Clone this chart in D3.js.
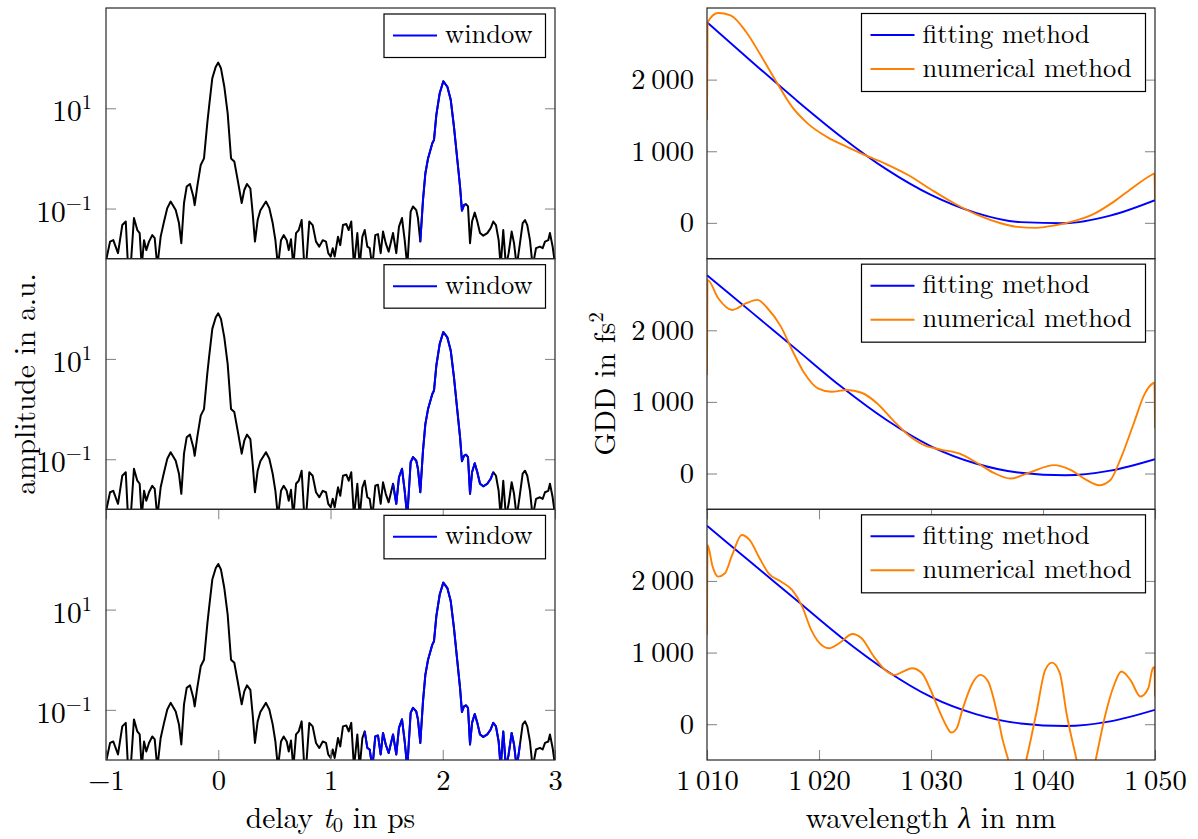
<!DOCTYPE html>
<html><head><meta charset="utf-8">
<script src="https://cdn.jsdelivr.net/npm/d3@7"></script>
<style>body{margin:0;background:#fff} svg text{font-family:"Latin Modern Roman","Liberation Serif",serif;}</style>
</head><body><svg id="c" width="1198" height="839" xmlns="http://www.w3.org/2000/svg"></svg>
<script>
// ---------- DATA ----------
// time trace (delay in ps, amplitude in a.u.)
const delay = [-1.000,-0.964,-0.935,-0.893,-0.855,-0.824,-0.804,-0.780,-0.751,-0.721,-0.700,-0.682,-0.661,-0.641,-0.617,-0.588,-0.566,-0.543,-0.513,-0.483,-0.454,-0.424,-0.379,-0.350,-0.329,-0.305,-0.281,-0.252,-0.222,-0.210,-0.187,-0.156,-0.127,-0.097,-0.082,-0.053,-0.022,0.000,0.024,0.054,0.084,0.114,0.143,0.173,0.209,0.232,0.256,0.286,0.307,0.327,0.351,0.375,0.425,0.455,0.485,0.509,0.532,0.559,0.583,0.610,0.628,0.648,0.669,0.693,0.717,0.743,0.767,0.782,0.811,0.841,0.871,0.900,0.931,0.960,0.980,1.002,1.020,1.037,1.067,1.087,1.111,1.141,1.162,1.185,1.209,1.239,1.260,1.284,1.305,1.328,1.349,1.373,1.399,1.423,1.447,1.468,1.492,1.518,1.536,1.557,1.586,1.610,1.637,1.661,1.684,1.714,1.735,1.764,1.779,1.800,1.824,1.845,1.869,1.907,1.922,1.943,1.973,2.005,2.041,2.071,2.100,2.130,2.154,2.171,2.189,2.207,2.225,2.243,2.261,2.285,2.308,2.332,2.361,2.397,2.427,2.450,2.474,2.498,2.516,2.539,2.563,2.587,2.614,2.635,2.659,2.688,2.712,2.733,2.753,2.777,2.801,2.831,2.866,2.890,2.911,2.940,2.955,2.979,2.991,3.000];
const amplitude = [0.009,0.0219,0.0234,0.0129,0.0468,0.055,0.007,0.007,0.0646,0.0372,0.0324,0.007,0.0234,0.0148,0.0219,0.0295,0.0257,0.007,0.0275,0.055,0.102,0.138,0.093,0.0513,0.0204,0.129,0.275,0.309,0.174,0.117,0.275,0.74,1.0,5.25,10.7,39.8,67.6,81.3,63,26.9,7.9,1.0,0.87,0.372,0.129,0.234,0.309,0.251,0.079,0.0219,0.0589,0.091,0.138,0.102,0.0513,0.0234,0.007,0.0234,0.0295,0.0234,0.0148,0.0245,0.007,0.0324,0.0372,0.0589,0.007,0.007,0.055,0.0468,0.0219,0.0174,0.0234,0.0219,0.0129,0.011,0.0162,0.011,0.0275,0.0186,0.0468,0.049,0.0372,0.055,0.007,0.0324,0.007,0.0275,0.0372,0.0174,0.0162,0.007,0.0295,0.0309,0.0129,0.0347,0.0204,0.0138,0.0204,0.0324,0.0129,0.0437,0.0646,0.0234,0.007,0.087,0.11,0.093,0.0646,0.0219,0.148,0.5,1.0,2.0,2.34,7.4,20,34.5,26.9,14.8,4.27,0.93,0.275,0.091,0.117,0.123,0.11,0.0204,0.055,0.083,0.055,0.0324,0.0288,0.0324,0.0407,0.055,0.0468,0.0234,0.007,0.0372,0.007,0.0129,0.0347,0.0204,0.007,0.0204,0.0513,0.0589,0.0468,0.0234,0.007,0.0162,0.0174,0.0162,0.0219,0.0234,0.0324,0.0174,0.011,0.008];
// window limits (ps) for the three panels
const windowStart = [1.79, 1.55, 1.30];
const windowEnd   = [2.215, 2.455, 2.70];

// GDD (fs^2) vs wavelength (nm)
const fitWavelength = [1010,1014,1018,1022,1026,1030,1034,1038,1042,1046,1050];
const fitGdd1  = [2800,2250,1710,1200,750,390,140,10,-5,100,316];
const fitGdd23 = [2770,2250,1730,1210,750,380,140,10,-25,40,200];

const numWavelength1 = [1010,1010.05,1011.0,1012.1,1013.5,1014.8,1016.2,1017.6,1019.0,1020.7,1022.5,1023.8,1025.9,1028.0,1030.1,1032.1,1034.2,1036.3,1037.7,1039.4,1041.1,1042.5,1044.6,1046.3,1048.1,1049.8,1049.95,1050];
const numGdd1 = [1433,2800,2930,2898,2665,2340,1967,1619,1386,1200,1060,967,828,665,456,270,107,-9,-56,-70,-33,14,130,293,502,679,690,330];

const numWavelength2 = [1010,1010.05,1011.0,1012.25,1013.5,1014.5,1015.4,1016.6,1017.6,1018.7,1019.9,1021.1,1022.5,1023.8,1025.2,1026.6,1028.0,1029.4,1030.8,1032.5,1034.2,1035.6,1037.1,1038.7,1041.0,1042.5,1043.9,1045.0,1046.0,1047.0,1048.1,1049.1,1049.8,1049.95,1050];
const numGdd2 = [1375,2704,2448,2284,2378,2424,2308,2051,1725,1399,1189,1142,1166,1128,979,746,536,396,336,280,140,9,-70,9,117,47,-93,-163,-93,233,699,1119,1259,1270,629];

const numWavelength3 = [1010,1010.05,1010.5,1011.0,1011.6,1012.25,1013.1,1013.8,1014.7,1015.5,1016.6,1017.6,1018.5,1019.3,1020.4,1020.9,1021.8,1023.0,1023.8,1024.9,1025.9,1026.8,1027.5,1028.3,1029.2,1029.9,1030.7,1031.4,1031.8,1032.3,1032.8,1033.7,1034.4,1035.1,1035.9,1036.4,1036.9,1037.3,1037.7,1038.1,1038.5,1039.4,1040.2,1040.8,1041.5,1042.1,1043.0,1043.4,1043.85,1044.3,1044.7,1045.6,1046.3,1047.0,1047.8,1048.7,1049.4,1049.8,1049.95,1050];
const numGdd3 = [1247,2502,2200,2060,2107,2363,2642,2572,2316,2107,1991,1874,1642,1316,1084,1060,1130,1260,1200,944,758,688,735,781,712,502,200,-33,-116,-56,200,572,688,595,153,-219,-498,-740,-850,-740,-498,153,758,860,712,153,-498,-780,-930,-780,-498,153,526,735,619,386,502,781,800,386];

// ticks and labels
const leftXTicks = [-1,0,1,2,3];
const leftXTickLabels = ["\u22121","0","1","2","3"];
const leftYTicks = [0.1, 10];
const leftYTickExp = ["\u22121","1"];
const rightXTicks = [1010,1020,1030,1040,1050];
const rightXTickLabels = ["1\u2009010","1\u2009020","1\u2009030","1\u2009040","1\u2009050"];
const rightYTicks = [0,1000,2000];
const rightYTickLabels = ["0","1\u2009000","2\u2009000"];
const leftLegend = ["window"];
const rightLegend = ["fitting method","numerical method"];

// ---------- LAYOUT ----------
const svg = d3.select("#c");
const FONT = '"Latin Modern Roman","Liberation Serif",serif';
const FS_LEG = 26.5, FS_TICK = 28.5, FS_LOG = 29.5, FS_SUP = 20.6, FS_TITLE = 29.5;
const L0 = 106, L1 = 555, R0 = 707, R1 = 1155;
const tops = [8, 258.67, 509.33], PH = 250.67;
const TICK = "#8c8c8c", FRAME = "#262626";
const BLUE = "#0000ff", ORANGE = "#ff8000";

const xL = d3.scaleLinear().domain([-1,3]).range([L0,L1]);
const xR = d3.scaleLinear().domain([1010,1050]).range([R0,R1]);

const trace = delay.map((t,i)=>({x:t, y:amplitude[i]}));
const fit = [fitGdd1, fitGdd23, fitGdd23].map(g => fitWavelength.map((w,i)=>({x:w,y:g[i]})));
const num = [[numWavelength1,numGdd1],[numWavelength2,numGdd2],[numWavelength3,numGdd3]]
  .map(([w,g]) => w.map((v,i)=>({x:v,y:g[i]})));

function txt(sel, fs){ return sel.style("font-family",FONT).style("font-size",fs+"px"); }

function styleAxis(g, fs){
  g.select(".domain").remove();
  g.selectAll(".tick line").attr("stroke",TICK).attr("stroke-width",1.1);
  g.attr("font-family",null).attr("font-size",null);
  txt(g.selectAll(".tick text"), fs || FS_TICK).attr("fill","#000");
}

function clip(id,x0,x1,top){
  svg.append("clipPath").attr("id",id).append("rect")
    .attr("x",x0).attr("y",top).attr("width",x1-x0).attr("height",PH);
}

function legend(x, y, w, h, entries, colors){
  const g = svg.append("g");
  g.append("rect").attr("x",x).attr("y",y).attr("width",w).attr("height",h)
    .attr("fill","#fff").attr("stroke","#000").attr("stroke-width",1.2);
  entries.forEach((e,k)=>{
    const cy = y + 21.5 + k*34;
    g.append("line").attr("x1",x+9).attr("x2",x+53).attr("y1",cy).attr("y2",cy)
      .attr("stroke",colors[k]).attr("stroke-width",2);
    txt(g.append("text").attr("x",x+61).attr("y",cy+7.5), FS_LEG).text(e);
  });
}

tops.forEach((top,i)=>{
  const bottom = top + PH;
  // ----- left panel -----
  const yL = d3.scaleLog().domain([0.01,1000]).range([bottom, top]);
  clip("cl"+i, L0, L1, top);
  const lineL = d3.line().x(d=>xL(d.x)).y(d=>yL(d.y));
  const gl = svg.append("g").attr("clip-path",`url(#cl${i})`);
  gl.append("path").datum(trace).attr("d",lineL).attr("fill","none")
    .attr("stroke","#000").attr("stroke-width",2).attr("stroke-linejoin","round");
  gl.append("path").datum(trace.filter(d=>d.x>=windowStart[i] && d.x<=windowEnd[i]))
    .attr("d",lineL).attr("fill","none").attr("stroke",BLUE).attr("stroke-width",2)
    .attr("stroke-linejoin","round");

  const ayl = svg.append("g").attr("transform",`translate(${L0},0)`)
    .call(d3.axisLeft(yL).tickValues(leftYTicks).tickSize(-10).tickPadding(14).tickFormat(()=>""));
  styleAxis(ayl, FS_LOG);
  ayl.selectAll(".tick text").each(function(d){
    const t = d3.select(this).attr("dy",null).attr("y",12.5);
    t.append("tspan").text("10");
    t.append("tspan").attr("dy",-12).style("font-size",FS_SUP+"px").text(leftYTickExp[leftYTicks.indexOf(d)]);
  });
  const ayr = svg.append("g").attr("transform",`translate(${L1},0)`)
    .call(d3.axisRight(yL).tickValues(leftYTicks).tickSize(-10).tickFormat(()=>""));
  styleAxis(ayr);

  // ----- right panel -----
  const yR = d3.scaleLinear().domain([-500,3000]).range([bottom, top]);
  clip("cr"+i, R0, R1, top);
  const lineR = d3.line().curve(d3.curveMonotoneX).x(d=>xR(d.x)).y(d=>yR(d.y));
  const gr = svg.append("g").attr("clip-path",`url(#cr${i})`);
  gr.append("path").datum(fit[i]).attr("d",lineR).attr("fill","none")
    .attr("stroke",BLUE).attr("stroke-width",1.9);
  gr.append("path").datum(num[i]).attr("d",lineR).attr("fill","none")
    .attr("stroke",ORANGE).attr("stroke-width",1.9).attr("stroke-linejoin","round");

  const ayrl = svg.append("g").attr("transform",`translate(${R0},0)`)
    .call(d3.axisLeft(yR).tickValues(rightYTicks).tickSize(-10).tickPadding(13)
      .tickFormat(d=>rightYTickLabels[rightYTicks.indexOf(d)]));
  styleAxis(ayrl);
  ayrl.selectAll(".tick text").attr("dy",null).attr("y",9);
  const ayrr = svg.append("g").attr("transform",`translate(${R1},0)`)
    .call(d3.axisRight(yR).tickValues(rightYTicks).tickSize(-10).tickFormat(()=>""));
  styleAxis(ayrr);

  // x ticks only on bottom row
  if (i === 2) {
    const axb = svg.append("g").attr("transform",`translate(0,${bottom})`)
      .call(d3.axisBottom(xL).tickValues(leftXTicks).tickSize(-10)
        .tickFormat(d=>leftXTickLabels[leftXTicks.indexOf(d)]));
    styleAxis(axb);
    axb.selectAll(".tick text").attr("dy",null).attr("y",30);
    const axt = svg.append("g").attr("transform",`translate(0,${top})`)
      .call(d3.axisTop(xL).tickValues(leftXTicks).tickSize(-10).tickFormat(()=>""));
    styleAxis(axt);
    const arb = svg.append("g").attr("transform",`translate(0,${bottom})`)
      .call(d3.axisBottom(xR).tickValues(rightXTicks).tickSize(-10)
        .tickFormat(d=>rightXTickLabels[rightXTicks.indexOf(d)]));
    styleAxis(arb);
    arb.selectAll(".tick text").attr("dy",null).attr("y",30);
    const art = svg.append("g").attr("transform",`translate(0,${top})`)
      .call(d3.axisTop(xR).tickValues(rightXTicks).tickSize(-10).tickFormat(()=>""));
    styleAxis(art);
  }

  // frames
  svg.append("rect").attr("x",L0).attr("y",top).attr("width",L1-L0).attr("height",PH)
    .attr("fill","none").attr("stroke",FRAME).attr("stroke-width",1.2);
  svg.append("rect").attr("x",R0).attr("y",top).attr("width",R1-R0).attr("height",PH)
    .attr("fill","none").attr("stroke",FRAME).attr("stroke-width",1.2);

  // legends
  legend(384, top+6, 161.5, 43.5, leftLegend, [BLUE]);
  legend(861.5, top+5.5, 284, 78, rightLegend, [BLUE, ORANGE]);
});

// ---------- AXIS TITLES ----------
txt(svg.append("text"), FS_TITLE).attr("text-anchor","middle")
  .attr("transform","translate(35,384) rotate(-90)").text("amplitude in a.u.");
const tr = txt(svg.append("text"), FS_TITLE).attr("text-anchor","middle")
  .attr("transform","translate(615,384) rotate(-90)");
tr.append("tspan").text("GDD in fs");
tr.append("tspan").attr("dy",-12).style("font-size",FS_SUP+"px").text("2");

const xt1 = txt(svg.append("text"), FS_TITLE).attr("text-anchor","middle").attr("x",(L0+L1)/2).attr("y",828);
xt1.append("tspan").text("delay ");
xt1.append("tspan").style("font-style","italic").text("t");
xt1.append("tspan").style("font-size",FS_SUP+"px").attr("dy",4).text("0");
xt1.append("tspan").attr("dy",-4).text(" in ps");

const xt2 = txt(svg.append("text"), FS_TITLE).attr("text-anchor","middle").attr("x",(R0+R1)/2).attr("y",828);
xt2.append("tspan").text("wavelength ");
xt2.append("tspan").style("font-style","italic").text("\u03bb");
xt2.append("tspan").text(" in nm");
</script></body></html>
